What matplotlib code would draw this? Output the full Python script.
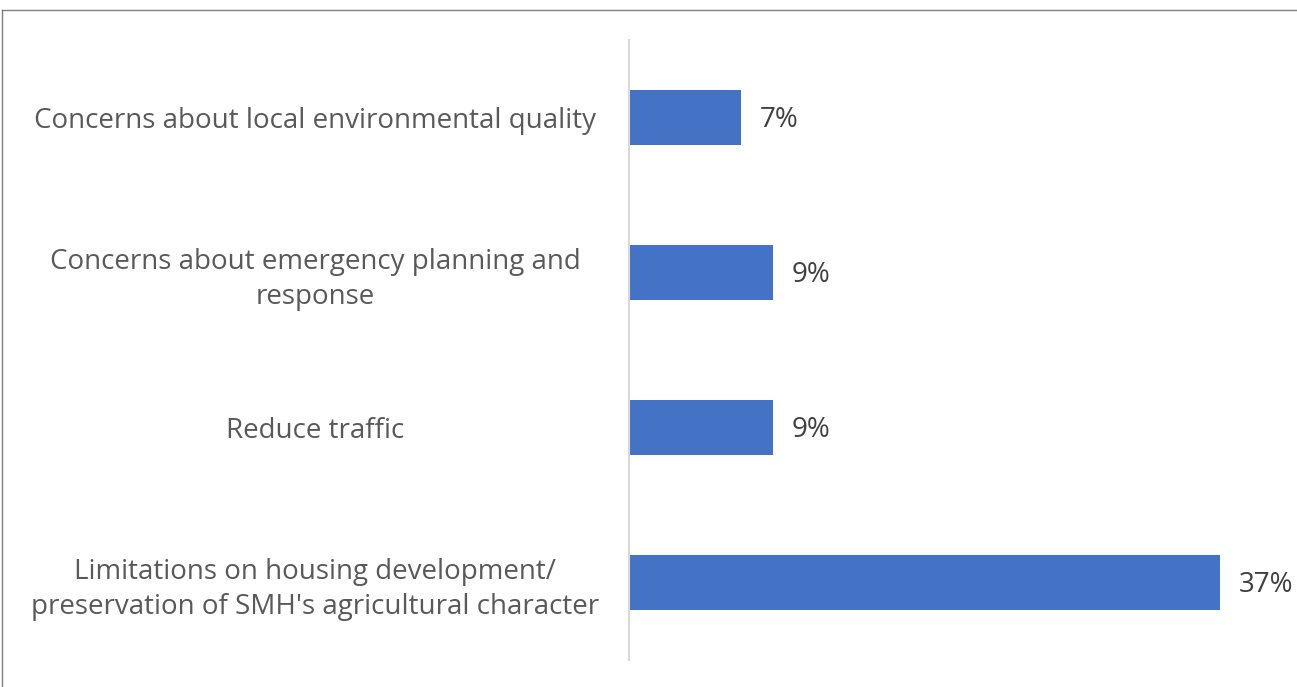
import matplotlib.pyplot as plt
import matplotlib.transforms as mtransforms
from matplotlib.lines import Line2D

# data, bottom to top as drawn
categories = [
    "Limitations on housing development/\npreservation of SMH's agricultural character",
    "Reduce traffic",
    "Concerns about emergency planning and\nresponse",
    "Concerns about local environmental quality",
]
values = [37, 9, 9, 7]
value_labels = ["37%", "9%", "9%", "7%"]

plt.rcParams['font.family'] = ['Open Sans', 'DejaVu Sans']

W, H = 1297, 687
fig = plt.figure(figsize=(W / 100, H / 100), dpi=100)
ax = fig.add_axes([629 / W, 1 - 660 / H, (1268 - 629) / W, (660 - 40) / H])

ypos = range(len(categories))
ax.barh(ypos, values, height=0.355, color="#4472C4")

for y, v, lab in zip(ypos, values, value_labels):
    ax.annotate(lab, (v, y), xytext=(13.5, -1.5), textcoords="offset points",
                va="center", ha="left", fontsize=20, color="#404040")

ax.set_xlim(0, 40)
ax.set_ylim(-0.5, len(categories) - 0.5)
ax.set_yticks(list(ypos))
ax.set_yticklabels(categories, fontsize=20, color="#595959", ha="center",
                   multialignment="center", linespacing=1.35)
ax.tick_params(axis="y", length=0, pad=0)
ax.set_xticks([])
for side in ["top", "right", "bottom"]:
    ax.spines[side].set_visible(False)
ax.spines["left"].set_color("#D9D9D9")
ax.spines["left"].set_linewidth(1.5)

# labels centred at x ~ 315 px
offset = mtransforms.ScaledTranslation(-(629 - 315) / 100, 0, fig.dpi_scale_trans)
for t in ax.get_yticklabels():
    t.set_transform(ax.get_yaxis_transform() + offset)
    t.set_x(0)

# outer frame (top and left)
fig.add_artist(Line2D([2 / W, 2 / W], [0, 1 - 10 / H], transform=fig.transFigure,
                      color="#7F7F7F", lw=1))
fig.add_artist(Line2D([2 / W, 1], [1 - 10 / H, 1 - 10 / H], transform=fig.transFigure,
                      color="#7F7F7F", lw=1))

fig.savefig("out.png", dpi=100, facecolor="white")
